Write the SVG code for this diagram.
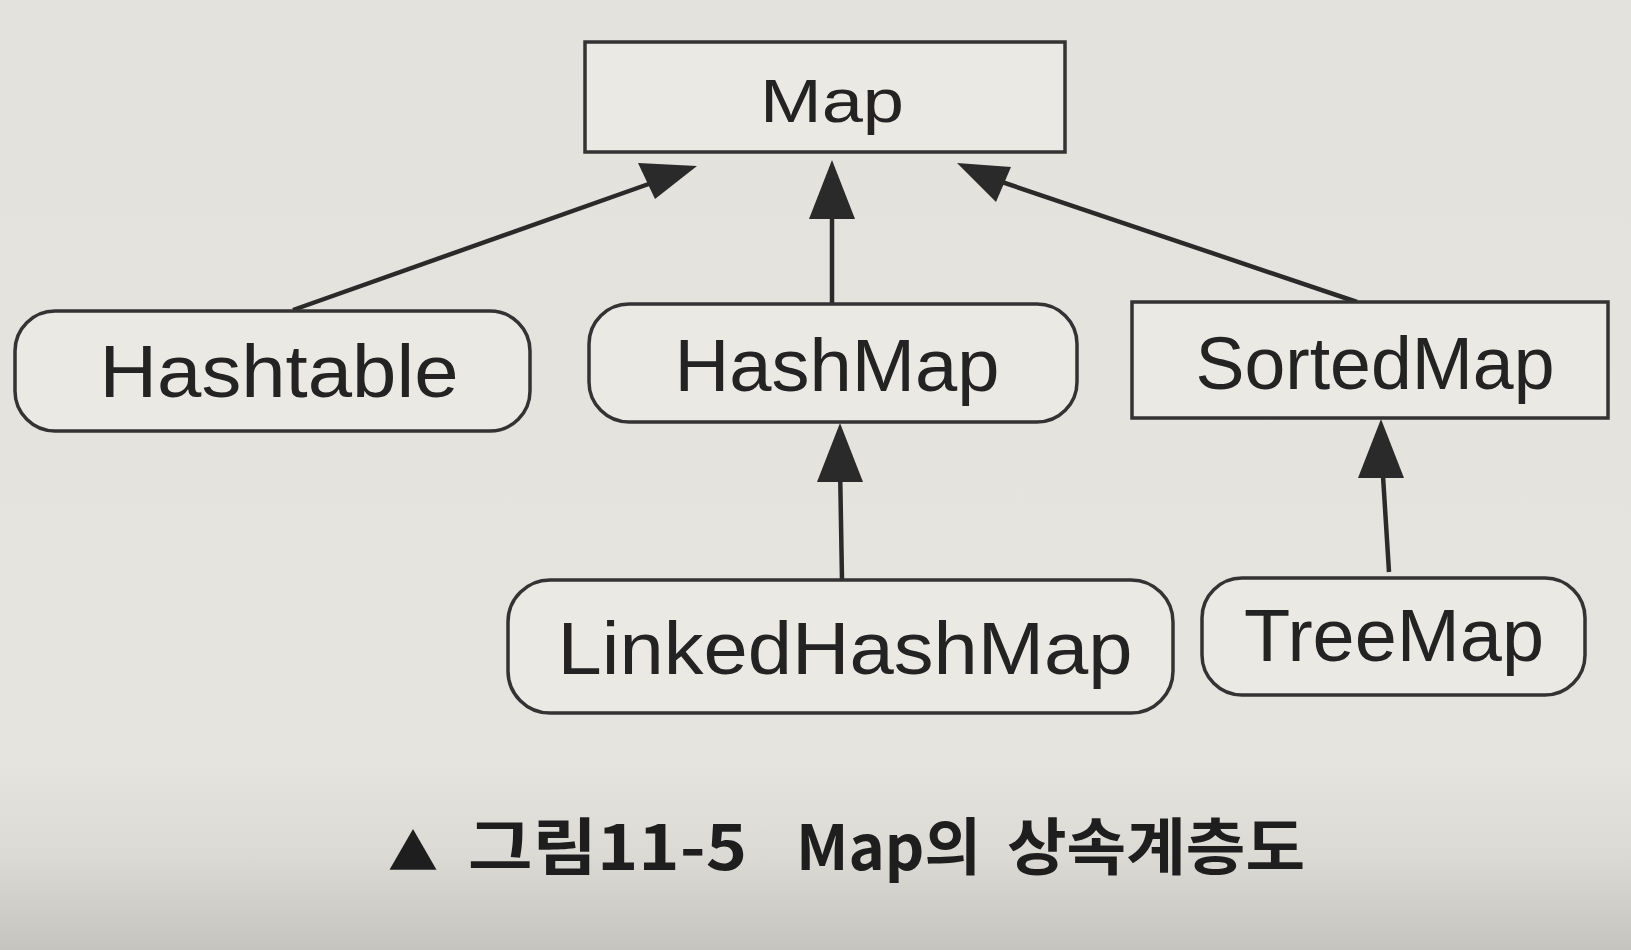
<svg xmlns="http://www.w3.org/2000/svg" width="1631" height="950" viewBox="0 0 1631 950">
<defs>
<linearGradient id="bg" x1="0" y1="0" x2="0" y2="1">
<stop offset="0" stop-color="#e4e2dd"/>
<stop offset="0.8" stop-color="#e6e4df"/>
<stop offset="0.9" stop-color="#dcdad5"/>
<stop offset="1" stop-color="#c6c4bf"/>
</linearGradient>
<style>
.box{fill:#ebe9e4;stroke:#333;stroke-width:3.5}
.lbl{font-family:"Liberation Sans",Arial,sans-serif;fill:#232323;text-anchor:middle}
.edge{stroke:#2a2a2a;stroke-width:4.5;fill:none}
.head{fill:#2a2a2a}
.cap{font-family:"Noto Sans CJK KR","Liberation Sans",sans-serif;font-weight:bold;fill:#1e1e1e}
</style>
</defs>
<rect width="1631" height="950" fill="url(#bg)"/>
<g id="connectors">
<line class="edge" x1="293" y1="310" x2="660" y2="180"/>
<polygon class="head" points="697,166 638,163 655,199"/>
<line class="edge" x1="832" y1="304" x2="832" y2="205"/>
<polygon class="head" points="832,160 809,219 855,219"/>
<line class="edge" x1="1357" y1="302" x2="990" y2="178"/>
<polygon class="head" points="957,163 996,202 1011,167"/>
<line class="edge" x1="842" y1="580" x2="840" y2="465"/>
<polygon class="head" points="840,423 817,482 863,482"/>
<line class="edge" x1="1389" y1="572" x2="1382" y2="460"/>
<polygon class="head" points="1381,419 1358,478 1404,478"/>
</g>
<g id="Map">
<rect class="box" x="585" y="42" width="480" height="110"/>
<text class="lbl" x="832" y="122" font-size="62" textLength="144" lengthAdjust="spacingAndGlyphs">Map</text>
</g>
<g id="Hashtable">
<rect class="box" x="15" y="311" width="515" height="120" rx="40"/>
<text class="lbl" x="279" y="397" font-size="74" textLength="359" lengthAdjust="spacingAndGlyphs">Hashtable</text>
</g>
<g id="HashMap">
<rect class="box" x="589" y="304" width="488" height="118" rx="40"/>
<text class="lbl" x="837" y="391" font-size="74" textLength="325" lengthAdjust="spacingAndGlyphs">HashMap</text>
</g>
<g id="SortedMap">
<rect class="box" x="1132" y="302" width="476" height="116"/>
<text class="lbl" x="1375" y="389" font-size="74" textLength="359" lengthAdjust="spacingAndGlyphs">SortedMap</text>
</g>
<g id="LinkedHashMap">
<rect class="box" x="508" y="580" width="665" height="133" rx="42"/>
<text class="lbl" x="845" y="674" font-size="74" textLength="575" lengthAdjust="spacingAndGlyphs">LinkedHashMap</text>
</g>
<g id="TreeMap">
<rect class="box" x="1202" y="578" width="383" height="117" rx="40"/>
<text class="lbl" x="1394" y="661" font-size="74" textLength="300" lengthAdjust="spacingAndGlyphs">TreeMap</text>
</g>
<g id="caption">
<text class="cap" y="870" font-size="62"><tspan x="388" font-size="50" textLength="50" lengthAdjust="spacingAndGlyphs">▲</tspan><tspan x="468" textLength="279" lengthAdjust="spacingAndGlyphs">그림11-5</tspan><tspan x="796" textLength="185" lengthAdjust="spacingAndGlyphs">Map의</tspan><tspan x="1007" textLength="298" lengthAdjust="spacingAndGlyphs">상속계층도</tspan></text>
</g>
</svg>
